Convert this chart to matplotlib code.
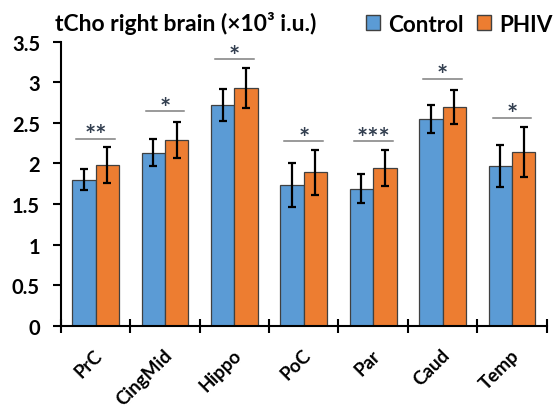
import matplotlib
matplotlib.use("Agg")
import matplotlib.pyplot as plt
from matplotlib.patches import Patch
import matplotlib.transforms as mtransforms
import numpy as np

plt.rcParams['font.family'] = ['Lato', 'DejaVu Sans']

regions = ["PrC", "CingMid", "Hippo", "PoC", "Par", "Caud", "Temp"]
control = [1.80, 2.13, 2.72, 1.73, 1.69, 2.55, 1.97]
control_err = [0.13, 0.165, 0.20, 0.27, 0.18, 0.17, 0.255]
phiv = [1.98, 2.29, 2.93, 1.89, 1.945, 2.70, 2.14]
phiv_err = [0.22, 0.22, 0.25, 0.28, 0.22, 0.21, 0.31]
sig_labels = ["**", "*", "*", "*", "***", "*", "*"]
sig_y = [2.30, 2.64, 3.28, 2.27, 2.27, 3.04, 2.56]
yticks = [0, 0.5, 1, 1.5, 2, 2.5, 3, 3.5]
ytick_labels = ["0", "0.5", "1", "1.5", "2", "2.5", "3", "3.5"]

c_blue = "#5B9BD5"
c_orange = "#ED7D31"

fig = plt.figure(figsize=(5.53, 4.10), dpi=100)
ax = fig.add_axes([0.110, 0.203, 0.8786, 0.693])

x = np.arange(len(regions))
w = 0.337
ax.bar(x - w/2, control, w, color=c_blue, edgecolor="#404040", linewidth=0.9, zorder=2)
ax.bar(x + w/2, phiv, w, color=c_orange, edgecolor="#404040", linewidth=0.9, zorder=2)
ax.errorbar(x - w/2, control, yerr=control_err, fmt="none", ecolor="black",
            elinewidth=1.6, capsize=3, capthick=1.6, zorder=3)
ax.errorbar(x + w/2, phiv, yerr=phiv_err, fmt="none", ecolor="black",
            elinewidth=1.6, capsize=3, capthick=1.6, zorder=3)

for xi, yl, lab in zip(x, sig_y, sig_labels):
    ax.plot([xi - 0.28, xi + 0.28], [yl, yl], color="#7F7F7F", linewidth=1.1, zorder=3)
    ax.text(xi, yl - 0.05, lab, ha="center", va="baseline", fontsize=19,
            color="#333F50", fontweight="bold", zorder=3)

ax.set_xlim(-0.5, len(regions) - 0.5)
ax.set_ylim(0, 3.5)
ax.set_yticks(yticks)
ax.set_yticklabels(ytick_labels, fontsize=14.5, fontweight="bold")
ax.tick_params(axis="y", direction="out", length=6, width=1.5, pad=9)

ax.set_xticks(x)
ax.set_xticklabels(regions, rotation=45, ha="right", rotation_mode="anchor",
                   fontsize=13.5, fontweight="bold")
ax.tick_params(axis="x", which="major", length=0, pad=14.5)
off = mtransforms.ScaledTranslation(-2/100, 0, fig.dpi_scale_trans)
for t in ax.get_xticklabels():
    t.set_transform(t.get_transform() + off)
ax.set_xticks(np.arange(len(regions) + 1) - 0.5, minor=True)
ax.tick_params(axis="x", which="minor", direction="inout", length=10, width=1.5)

for s in ["top", "right"]:
    ax.spines[s].set_visible(False)
ax.spines["left"].set_linewidth(1.5)
ax.spines["bottom"].set_linewidth(1.5)

fig.text(55/553, 1 - 31/410, "tCho right brain (×10³ i.u.)", fontsize=16.5,
         fontweight="bold", ha="left", va="baseline")

handles = [Patch(facecolor=c_blue, edgecolor="#404040", label="Control"),
           Patch(facecolor=c_orange, edgecolor="#404040", label="PHIV")]
fig.legend(handles=handles, loc="center left", bbox_to_anchor=(366/553, 1 - 25/410),
           ncol=2, frameon=False, prop={"size": 16.2, "weight": "bold"},
           handlelength=0.62, handleheight=0.62, handletextpad=0.36, columnspacing=0.6,
           borderpad=0, borderaxespad=0)

fig.savefig("out.png", dpi=100)
